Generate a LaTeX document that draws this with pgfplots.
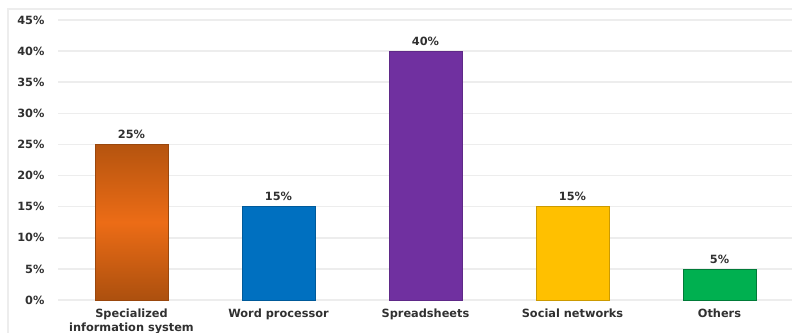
\documentclass[border=0pt]{standalone}
\usepackage{fontspec}
\setmainfont{DejaVu Sans}
\usepackage{pgfplots}
\pgfplotsset{compat=1.18}
\definecolor{cOrIn}{HTML}{EC6C16}
\definecolor{cOrOut}{HTML}{B5540F}
\definecolor{cBlue}{HTML}{0070C0}
\definecolor{cPurple}{HTML}{7030A0}
\definecolor{cYellow}{HTML}{FFC000}
\definecolor{cGreen}{HTML}{00B050}
\definecolor{cText}{HTML}{303030}
\definecolor{cGrid}{HTML}{EDEDED}
\newcommand{\lblfont}{\fontsize{8.5}{10.2}\selectfont\bfseries}
\begin{document}
\begin{tikzpicture}
\draw[cGrid, line width=1.1pt] (6pt,-20pt) -- (6pt,242.25pt) -- (620pt,242.25pt);
\begin{axis}[
  at={(43.5pt,24pt)}, anchor=south west,
  scale only axis, width=551.25pt, height=210pt,
  xmin=-0.5, xmax=4.5, ymin=0, ymax=45,
  enlargelimits=false, clip=false,
  axis line style={draw=none},
  major tick length=0pt,
  ytick={0,5,...,45},
  ymajorgrids, grid style={cGrid, line width=1.1pt},
  /pgf/number format/assume math mode=true,
  yticklabel={\pgfmathprintnumber{\tick}\%},
  yticklabel style={font=\lblfont, text=cText, anchor=east, inner sep=0pt, xshift=-10pt},
  xtick={0,1,2,3,4},
  xticklabels={{Specialized\\information system},{Word processor},{Spreadsheets},{Social networks},{Others}},
  xticklabel style={font=\lblfont, text=cText, align=center, anchor=north, inner sep=0pt, yshift=-6.5pt},
  ybar, bar width=54.75pt, bar shift=0pt,
  nodes near coords={\pgfmathprintnumber{\pgfplotspointmeta}\%},
  every node near coord/.append style={font=\lblfont, text=cText, anchor=south, inner sep=0pt, yshift=4pt},
]
\addplot[draw=cOrOut!85!black, line width=0.5pt, top color=cOrOut, bottom color=cOrOut!95!black, middle color=cOrIn] coordinates {(0,25)};
\addplot[draw=cBlue!80!black, line width=0.5pt, fill=cBlue] coordinates {(1,15)};
\addplot[draw=cPurple!85!black, line width=0.5pt, fill=cPurple] coordinates {(2,40)};
\addplot[draw=cYellow!80!black, line width=0.5pt, fill=cYellow] coordinates {(3,15)};
\addplot[draw=cGreen!70!black, line width=0.5pt, fill=cGreen] coordinates {(4,5)};
\end{axis}
\pgfresetboundingbox
\useasboundingbox (0,0) rectangle (594pt,249pt);
\end{tikzpicture}
\end{document}
